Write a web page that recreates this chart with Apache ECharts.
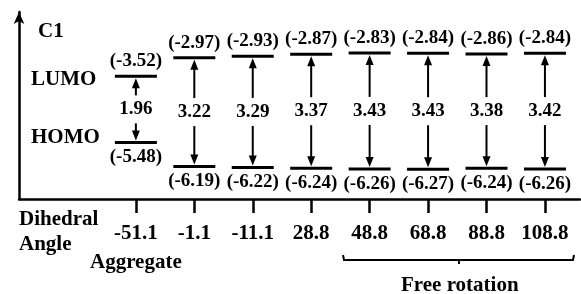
<!DOCTYPE html>
<html>
<head>
<meta charset="utf-8">
<script src="https://cdn.jsdelivr.net/npm/echarts@6/dist/echarts.min.js"></script>
<style>
  html, body { margin: 0; padding: 0; background: #fff; }
  #chart { width: 581px; height: 294px; }
</style>
</head>
<body>
<div id="chart"></div>
<script>
// dihedral angles (x tick labels)
var angles = ['-51.1', '-1.1', '-11.1', '28.8', '48.8', '68.8', '88.8', '108.8'];
// orbital energies (eV)
var lumo = [-3.52, -2.97, -2.93, -2.87, -2.83, -2.84, -2.86, -2.84];
var homo = [-5.48, -6.19, -6.22, -6.24, -6.26, -6.27, -6.24, -6.26];
// band gaps
var gaps = [1.96, 3.22, 3.29, 3.37, 3.43, 3.43, 3.38, 3.42];

var FONT = '"Liberation Serif", "Times New Roman", serif';

var levelData = angles.map(function (a, i) {
    return [i, lumo[i], homo[i], gaps[i]];
});

function arrow(cx, yFrom, yTo) {
    // shaft + head, tip at yTo
    var dir = yTo < yFrom ? 1 : -1;
    return [
        { type: 'line', shape: { x1: cx, y1: yFrom, x2: cx, y2: yTo + dir * 8 },
          style: { stroke: '#000', lineWidth: 2 } },
        { type: 'polygon', shape: { points: [[cx, yTo], [cx - 4, yTo + dir * 10], [cx + 4, yTo + dir * 10]] },
          style: { fill: '#000' } }
    ];
}

function txt(s, x, y, size) {
    return {
        type: 'text',
        style: { text: s, x: x, y: y, align: 'center', verticalAlign: 'middle',
                 fontFamily: FONT, fontWeight: 'bold', fontSize: size, fill: '#000' }
    };
}

function renderLevels(params, api) {
    var x = api.value(0);
    var pL = api.coord([x, api.value(1)]);
    var pH = api.coord([x, api.value(2)]);
    var cx = pL[0], yL = pL[1], yH = pH[1];
    var ym = (yL + yH) / 2;
    var half = 21;
    var kids = [
        { type: 'line', shape: { x1: cx - half, y1: yL, x2: cx + half, y2: yL }, style: { stroke: '#000', lineWidth: 3 } },
        { type: 'line', shape: { x1: cx - half, y1: yH, x2: cx + half, y2: yH }, style: { stroke: '#000', lineWidth: 3 } },
        txt('(' + api.value(1).toFixed(2) + ')', cx, yL - 15, 19),
        txt('(' + api.value(2).toFixed(2) + ')', cx, yH + 15, 19),
        txt(api.value(3).toFixed(2), cx, ym, 19)
    ];
    kids = kids.concat(arrow(cx, ym - 14, yL + 2), arrow(cx, ym + 14, yH - 2));
    return { type: 'group', children: kids };
}

var myChart = echarts.init(document.getElementById('chart'));
var option = {
    animation: false,
    backgroundColor: '#fff',
    grid: { left: 19, right: 1, top: 12, bottom: 95, containLabel: false },
    xAxis: {
        type: 'value',
        min: -2,
        max: 7.6,
        splitLine: { show: false },
        axisLine: { show: true, onZero: false, lineStyle: { color: '#000', width: 2.5 } },
        axisTick: { show: true, customValues: [0, 1, 2, 3, 4, 5, 6, 7], length: 14,
                    lineStyle: { color: '#000', width: 2.5 } },
        axisLabel: {
            customValues: [0, 1, 2, 3, 4, 5, 6, 7],
            margin: 24,
            color: '#000',
            fontFamily: FONT,
            fontWeight: 'bold',
            fontSize: 21,
            formatter: function (v) { return angles[Math.round(v)]; }
        }
    },
    yAxis: {
        type: 'value',
        min: -7.15,
        max: -1.62,
        splitLine: { show: false },
        axisTick: { show: false },
        axisLabel: { show: false },
        axisLine: { show: true, onZero: false, symbol: ['none', 'arrow'], symbolSize: [8, 12],
                    lineStyle: { color: '#000', width: 2.5 } }
    },
    series: [{
        type: 'custom',
        clip: false,
        renderItem: renderLevels,
        data: levelData
    }],
    graphic: [
        { type: 'text', left: 38, top: 21, style: { text: 'C1', fontFamily: FONT, fontWeight: 'bold', fontSize: 21, fill: '#000' } },
        { type: 'text', left: 31, top: 69, style: { text: 'LUMO', fontFamily: FONT, fontWeight: 'bold', fontSize: 21, fill: '#000' } },
        { type: 'text', left: 31, top: 127, style: { text: 'HOMO', fontFamily: FONT, fontWeight: 'bold', fontSize: 21, fill: '#000' } },
        { type: 'text', left: 19, top: 209, style: { text: 'Dihedral', fontFamily: FONT, fontWeight: 'bold', fontSize: 21, fill: '#000' } },
        { type: 'text', left: 19, top: 234, style: { text: 'Angle', fontFamily: FONT, fontWeight: 'bold', fontSize: 21, fill: '#000' } },
        { type: 'text', left: 90, top: 252, style: { text: 'Aggregate', fontFamily: FONT, fontWeight: 'bold', fontSize: 21, fill: '#000' } },
        { type: 'polyline', shape: { points: [[343, 255], [344, 260], [573, 260], [574, 255]] },
          style: { stroke: '#000', lineWidth: 2, fill: null } },
        { type: 'line', shape: { x1: 459, y1: 260, x2: 459, y2: 264 }, style: { stroke: '#000', lineWidth: 2 } },
        { type: 'text', left: 401, top: 275, style: { text: 'Free rotation', fontFamily: FONT, fontWeight: 'bold', fontSize: 21, fill: '#000' } }
    ]
};
myChart.setOption(option);
</script>
</body>
</html>
